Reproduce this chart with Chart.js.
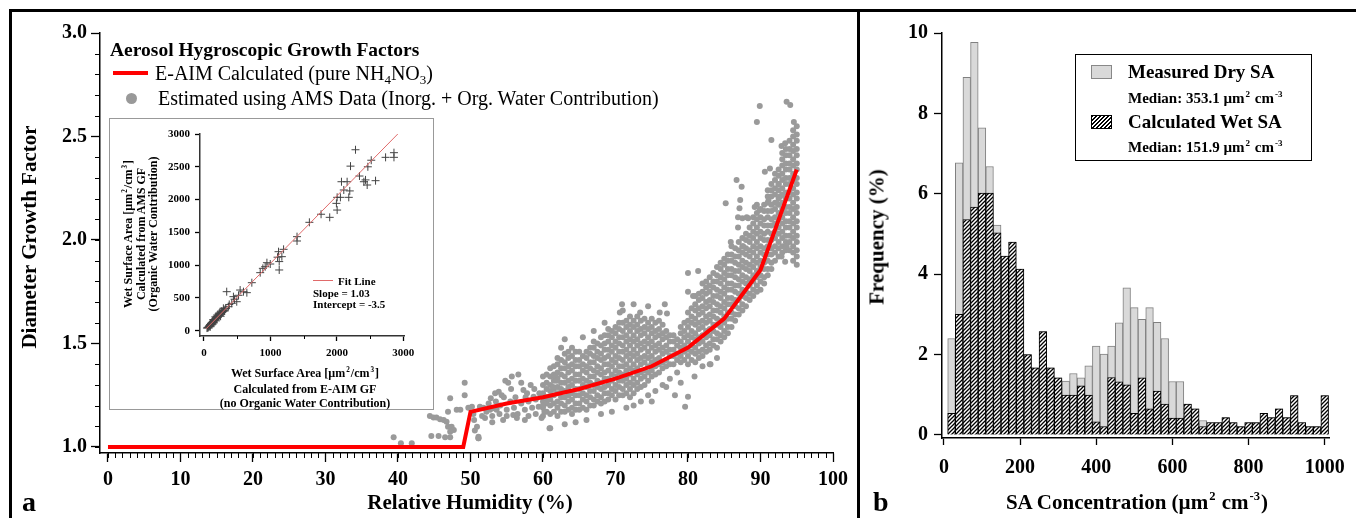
<!DOCTYPE html>
<html>
<head>
<meta charset="utf-8">
<script src="https://cdn.jsdelivr.net/npm/chart.js@4.4.1/dist/chart.umd.min.js"></script>
<style>
  body { margin: 0; background: #fff; }
  #wrap { position: relative; width: 1356px; height: 518px; overflow: hidden; background: #fff;
          font-family: 'Liberation Serif', 'Times New Roman', serif; color: #000; }
  canvas { position: absolute; }
  .t { position: absolute; white-space: nowrap; line-height: 1; }
  .b { font-weight: bold; }
  .c { transform: translate(-50%, -50%); }
  .l { transform: translateY(-50%); }
  .v { transform: translate(-50%, -50%) rotate(-90deg); }
  sup { font-size: 0.6em; vertical-align: 0.7em; line-height: 0; margin: 0 1px; }
  sub { font-size: 0.65em; vertical-align: -0.3em; line-height: 0; }
  .line { position: absolute; background: #000; }
</style>
</head>
<body>
<div id="wrap">
  <canvas id="mainChart" width="858" height="518" style="left:0;top:0"></canvas>
  <canvas id="insetChart" width="324" height="291" style="left:109px;top:118px;background:#fff"></canvas>
  <div style="position:absolute;left:109px;top:118px;width:323px;height:290px;border:1px solid #999"></div>
  <canvas id="histChart" width="498" height="518" style="left:858px;top:0"></canvas>

  <!-- frame -->
  <div class="line" style="left:9px;top:9px;width:1347px;height:3px"></div>
  <div class="line" style="left:9px;top:9px;width:3px;height:509px"></div>
  <div class="line" style="left:857px;top:9px;width:3px;height:509px"></div>

  <!-- panel a texts -->
  <div class="t b v" style="left:29px;top:237px;font-size:21px">Diameter Growth Factor</div>
  <div class="t b c" style="left:470px;top:502px;font-size:21px">Relative Humidity (%)</div>
  <div class="t b" style="left:22px;top:488px;font-size:28px">a</div>

  <div class="t b l" style="left:110px;top:50px;font-size:19.5px">Aerosol Hygroscopic Growth Factors</div>
  <div style="position:absolute;left:113px;top:71px;width:35px;height:4px;background:#f00"></div>
  <div class="t l" style="left:155px;top:73px;font-size:20px">E-AIM Calculated (pure NH<sub>4</sub>NO<sub>3</sub>)</div>
  <div style="position:absolute;left:126px;top:93px;width:11px;height:11px;border-radius:50%;background:#999"></div>
  <div class="t l" style="left:158px;top:98px;font-size:20px">Estimated using AMS Data (Inorg. + Org. Water Contribution)</div>

  <!-- inset texts -->
  <div class="t b v" style="left:128px;top:234px;font-size:12px">Wet Surface Area [µm<sup>2</sup>/cm<sup>3</sup>]</div>
  <div class="t b v" style="left:141px;top:234px;font-size:12px">Calculated from AMS GF</div>
  <div class="t b v" style="left:153px;top:234px;font-size:12px">(Organic Water Contribution)</div>
  <div class="t b c" style="left:305px;top:373px;font-size:12px">Wet Surface Area [µm<sup>2</sup>/cm<sup>3</sup>]</div>
  <div class="t b c" style="left:305px;top:389px;font-size:12px">Calculated from E-AIM GF</div>
  <div class="t b c" style="left:305px;top:403px;font-size:12px">(no Organic Water Contribution)</div>
  <div style="position:absolute;left:313px;top:280px;width:20px;height:1px;background:#e06a6a"></div>
  <div class="t b l" style="left:338px;top:281px;font-size:11px">Fit Line</div>
  <div class="t b l" style="left:313px;top:293px;font-size:11px">Slope = 1.03</div>
  <div class="t b l" style="left:313px;top:304px;font-size:11px">Intercept = -3.5</div>

  <!-- panel b texts -->
  <div class="t b v" style="left:877px;top:237px;font-size:21px">Frequency (%)</div>
  <div class="t b c" style="left:1137px;top:502px;font-size:21px">SA Concentration (µm<sup>2</sup> cm<sup>-3</sup>)</div>
  <div class="t b" style="left:873px;top:488px;font-size:28px">b</div>

  <div style="position:absolute;left:1075px;top:54px;width:235px;height:105px;border:1.5px solid #000"></div>
  <div style="position:absolute;left:1091px;top:65px;width:19px;height:12px;background:#d9d9d9;border:1px solid #888"></div>
  <div class="t b l" style="left:1128px;top:71px;font-size:19px">Measured Dry SA</div>
  <div class="t b l" style="left:1128px;top:98px;font-size:15px">Median: 353.1 µm<sup>2</sup> cm<sup>-3</sup></div>
  <div style="position:absolute;left:1091px;top:115px;width:19px;height:12px;border:1px solid #000;
       background:repeating-linear-gradient(135deg,#000 0 1.2px,#fff 1.2px 2.8px)"></div>
  <div class="t b l" style="left:1128px;top:121px;font-size:19px">Calculated Wet SA</div>
  <div class="t b l" style="left:1128px;top:147px;font-size:15px">Median: 151.9 µm<sup>2</sup> cm<sup>-3</sup></div>
</div>

<script>
// ---- panel a: growth factor vs RH ----
const rhTicks = [0, 10, 20, 30, 40, 50, 60, 70, 80, 90, 100];
const gfTicks = [1.0, 1.5, 2.0, 2.5, 3.0];

// E-AIM calculated growth factor (pure NH4NO3)
const eaimRH = [0, 49, 50, 55, 60, 65, 70, 75, 80, 85, 90, 95];
const eaimGF = [1.0, 1.0, 1.17, 1.21, 1.24, 1.28, 1.33, 1.39, 1.48, 1.62, 1.855, 2.34];

// AMS estimated points, read column by column off the dense cloud
const amsColumns = [
  [60, [1.15, 1.19, 1.22, 1.26, 1.30, 1.34]],
  [60.5, [1.17, 1.21, 1.24, 1.28, 1.31, 1.35]],
  [61, [1.16, 1.20, 1.23, 1.27, 1.30, 1.34, 1.38]],
  [61.5, [1.17, 1.21, 1.25, 1.28, 1.32, 1.35, 1.39]],
  [62, [1.15, 1.19, 1.22, 1.26, 1.29, 1.33, 1.36, 1.40, 1.43]],
  [62.5, [1.17, 1.21, 1.24, 1.28, 1.31, 1.35, 1.38, 1.42]],
  [63, [1.17, 1.20, 1.24, 1.27, 1.31, 1.34, 1.38, 1.41, 1.45]],
  [63.5, [1.18, 1.22, 1.25, 1.29, 1.32, 1.36, 1.39, 1.43, 1.46]],
  [64, [1.16, 1.19, 1.23, 1.26, 1.30, 1.33, 1.37, 1.40, 1.44, 1.48]],
  [64.5, [1.18, 1.21, 1.25, 1.28, 1.32, 1.35, 1.39, 1.42, 1.46]],
  [65, [1.18, 1.21, 1.25, 1.28, 1.32, 1.35, 1.39, 1.42, 1.46]],
  [65.5, [1.19, 1.23, 1.26, 1.30, 1.33, 1.37, 1.40, 1.44]],
  [66, [1.18, 1.22, 1.25, 1.29, 1.32, 1.36, 1.39, 1.43, 1.46]],
  [66.5, [1.20, 1.24, 1.27, 1.31, 1.34, 1.38, 1.41, 1.45, 1.48]],
  [67, [1.20, 1.23, 1.27, 1.30, 1.34, 1.37, 1.41, 1.44, 1.48, 1.51]],
  [67.5, [1.22, 1.25, 1.29, 1.32, 1.36, 1.39, 1.43, 1.46, 1.50]],
  [68, [1.21, 1.24, 1.28, 1.31, 1.35, 1.38, 1.42, 1.45, 1.49, 1.53]],
  [68.5, [1.22, 1.26, 1.29, 1.33, 1.36, 1.40, 1.43, 1.47, 1.50, 1.54]],
  [69, [1.23, 1.26, 1.30, 1.33, 1.37, 1.40, 1.44, 1.47, 1.51, 1.54, 1.57]],
  [69.5, [1.25, 1.28, 1.32, 1.35, 1.39, 1.42, 1.46, 1.49, 1.53, 1.56]],
  [70, [1.23, 1.27, 1.30, 1.34, 1.37, 1.41, 1.44, 1.48, 1.51, 1.55, 1.58]],
  [70.5, [1.25, 1.29, 1.32, 1.36, 1.39, 1.43, 1.46, 1.50, 1.53, 1.57, 1.60]],
  [71, [1.25, 1.28, 1.32, 1.35, 1.39, 1.42, 1.46, 1.49, 1.53, 1.56, 1.60]],
  [71.5, [1.26, 1.30, 1.33, 1.37, 1.40, 1.44, 1.47, 1.51, 1.54, 1.58, 1.61]],
  [72, [1.24, 1.28, 1.31, 1.35, 1.38, 1.42, 1.45, 1.49, 1.52, 1.56, 1.59, 1.63]],
  [72.5, [1.26, 1.30, 1.33, 1.37, 1.40, 1.44, 1.47, 1.51, 1.54, 1.58, 1.61]],
  [73, [1.28, 1.31, 1.35, 1.38, 1.42, 1.45, 1.49, 1.52, 1.56, 1.59, 1.63]],
  [73.5, [1.29, 1.33, 1.36, 1.40, 1.43, 1.47, 1.50, 1.54, 1.57, 1.61]],
  [74, [1.30, 1.34, 1.37, 1.41, 1.44, 1.48, 1.51, 1.55, 1.58, 1.62]],
  [74.5, [1.32, 1.36, 1.39, 1.43, 1.46, 1.50, 1.53, 1.57, 1.60]],
  [75, [1.34, 1.37, 1.41, 1.44, 1.48, 1.51, 1.55, 1.58, 1.62]],
  [75.5, [1.35, 1.39, 1.42, 1.46, 1.49, 1.53, 1.56, 1.60]],
  [76, [1.36, 1.40, 1.43, 1.47, 1.50, 1.54, 1.57, 1.61]],
  [76.5, [1.38, 1.41, 1.45, 1.48, 1.52, 1.55, 1.59]],
  [77, [1.39, 1.42, 1.46, 1.49, 1.53, 1.56]],
  [77.5, [1.40, 1.44, 1.47, 1.51, 1.54]],
  [78, [1.40, 1.44, 1.47, 1.51, 1.54]],
  [78.5, [1.42, 1.45, 1.49, 1.52]],
  [79, [1.41, 1.44, 1.48, 1.51, 1.55, 1.58]],
  [79.5, [1.42, 1.46, 1.49, 1.53, 1.56, 1.60]],
  [80, [1.40, 1.44, 1.47, 1.51, 1.54, 1.58, 1.61, 1.65]],
  [80.5, [1.42, 1.46, 1.49, 1.53, 1.56, 1.60, 1.63, 1.67]],
  [81, [1.41, 1.45, 1.48, 1.52, 1.55, 1.59, 1.62, 1.66, 1.69, 1.73]],
  [81.5, [1.43, 1.46, 1.50, 1.53, 1.57, 1.60, 1.64, 1.67, 1.71, 1.74]],
  [82, [1.44, 1.47, 1.51, 1.54, 1.58, 1.61, 1.65, 1.68, 1.72, 1.75, 1.79]],
  [82.5, [1.46, 1.49, 1.53, 1.56, 1.60, 1.63, 1.67, 1.70, 1.74, 1.77, 1.80]],
  [83, [1.47, 1.50, 1.54, 1.57, 1.61, 1.64, 1.68, 1.71, 1.75, 1.78, 1.82]],
  [83.5, [1.49, 1.52, 1.56, 1.59, 1.63, 1.66, 1.70, 1.73, 1.77, 1.80, 1.84]],
  [84, [1.48, 1.52, 1.55, 1.59, 1.62, 1.66, 1.69, 1.73, 1.76, 1.80, 1.83, 1.87]],
  [84.5, [1.51, 1.54, 1.58, 1.61, 1.65, 1.68, 1.72, 1.75, 1.79, 1.82, 1.86, 1.89]],
  [85, [1.53, 1.56, 1.60, 1.63, 1.67, 1.70, 1.74, 1.77, 1.81, 1.84, 1.88, 1.91]],
  [85.5, [1.55, 1.58, 1.62, 1.65, 1.69, 1.72, 1.76, 1.79, 1.83, 1.86, 1.90, 1.93]],
  [86, [1.58, 1.62, 1.65, 1.69, 1.72, 1.76, 1.79, 1.83, 1.86, 1.90, 1.93, 1.97]],
  [86.5, [1.61, 1.64, 1.68, 1.71, 1.75, 1.78, 1.82, 1.85, 1.89, 1.92, 1.96]],
  [87, [1.64, 1.67, 1.71, 1.74, 1.78, 1.81, 1.85, 1.88, 1.92, 1.95, 1.99]],
  [87.5, [1.66, 1.69, 1.73, 1.76, 1.80, 1.83, 1.87, 1.90, 1.94, 1.97, 2.01]],
  [88, [1.68, 1.72, 1.75, 1.79, 1.82, 1.86, 1.89, 1.93, 1.96, 2.00, 2.03]],
  [88.5, [1.71, 1.74, 1.78, 1.81, 1.85, 1.88, 1.92, 1.95, 1.99, 2.02, 2.06]],
  [89, [1.73, 1.76, 1.80, 1.83, 1.87, 1.90, 1.94, 1.97, 2.01, 2.04, 2.08, 2.11]],
  [89.5, [1.75, 1.78, 1.82, 1.85, 1.89, 1.92, 1.96, 1.99, 2.03, 2.06, 2.10, 2.13]],
  [90, [1.76, 1.80, 1.83, 1.87, 1.90, 1.94, 1.97, 2.01, 2.04, 2.08, 2.11, 2.15]],
  [90.5, [1.79, 1.82, 1.86, 1.89, 1.93, 1.96, 2.00, 2.03, 2.07, 2.10, 2.14, 2.17]],
  [91, [1.83, 1.86, 1.90, 1.93, 1.97, 2.00, 2.04, 2.07, 2.11, 2.14, 2.18, 2.21, 2.24]],
  [91.5, [1.86, 1.89, 1.93, 1.96, 2.00, 2.03, 2.07, 2.10, 2.14, 2.17, 2.21, 2.24, 2.27]],
  [92, [1.90, 1.94, 1.97, 2.01, 2.04, 2.08, 2.11, 2.15, 2.18, 2.22, 2.25, 2.29, 2.32]],
  [92.5, [1.92, 1.96, 1.99, 2.03, 2.06, 2.10, 2.13, 2.17, 2.20, 2.24, 2.27, 2.31, 2.34]],
  [93, [1.94, 1.97, 2.01, 2.04, 2.08, 2.11, 2.15, 2.18, 2.22, 2.25, 2.29, 2.32, 2.36, 2.39, 2.42]],
  [93.5, [1.95, 1.99, 2.02, 2.06, 2.09, 2.13, 2.16, 2.20, 2.23, 2.27, 2.30, 2.34, 2.37, 2.41, 2.44]],
  [94, [1.95, 1.99, 2.02, 2.06, 2.09, 2.13, 2.16, 2.20, 2.23, 2.27, 2.30, 2.34, 2.37, 2.41, 2.44, 2.48]],
  [94.5, [1.90, 1.94, 1.97, 2.01, 2.04, 2.08, 2.11, 2.15, 2.18, 2.22, 2.25, 2.29, 2.32, 2.36, 2.39, 2.43, 2.46, 2.50, 2.53]],
  [95, [1.88, 1.92, 1.95, 1.99, 2.02, 2.06, 2.09, 2.13, 2.16, 2.20, 2.23, 2.27, 2.30, 2.34, 2.37, 2.41, 2.44, 2.48, 2.51, 2.55]]
];

// sparse points and outliers
const amsSparse = [
  [39.4, 1.047], [40.4, 1.018], [41.9, 1.018],
  [44.4, 1.15], [44.9, 1.143], [45.3, 1.143], [45.8, 1.134], [46.3, 1.13], [46.7, 1.122], [46.9, 1.098],
  [47.4, 1.098], [47.7, 1.082], [47.2, 1.074], [44.6, 1.053], [45.6, 1.053], [46.5, 1.047], [47.2, 1.047],
  [46.9, 1.17], [47.2, 1.235], [48.1, 1.18], [48.6, 1.18], [49.2, 1.31], [49.7, 1.19], [49.2, 1.25],
  [50.2, 1.195], [50.4, 1.16], [50.5, 1.13], [50.9, 1.098], [51.1, 1.05], [50.6, 1.08], [51.1, 1.042],
  [51.3, 1.195], [51.8, 1.19], [52.2, 1.17], [52.7, 1.18], [53.1, 1.187], [53.6, 1.18], [53.4, 1.26],
  [53.9, 1.267], [54.3, 1.25], [54.8, 1.32], [55.2, 1.31], [54.1, 1.20], [55.9, 1.155], [56.4, 1.14],
  [57.5, 1.13], [55.7, 1.34], [56.6, 1.35], [57.3, 1.275], [57.8, 1.26], [58.7, 1.243], [59.4, 1.195],
  [60.5, 1.235], [60.9, 1.09], [61.4, 1.29], [61.7, 1.34], [61.9, 1.32],
  [52, 1.14], [52.5, 1.21], [53, 1.15], [53.5, 1.22], [54, 1.16], [54.5, 1.13], [55, 1.18], [55.5, 1.22],
  [56, 1.19], [56.5, 1.16], [57, 1.21], [57.5, 1.18], [58, 1.15], [58, 1.22], [58.5, 1.19], [59, 1.16],
  [59, 1.23], [59.5, 1.26], [59.8, 1.14], [60, 1.20], [60.2, 1.17], [58.8, 1.28], [57.6, 1.24], [56.2, 1.24],
  [55, 1.15], [53, 1.12], [54.6, 1.24], [52.8, 1.235], [51.6, 1.15], [55.6, 1.28], [57, 1.31], [58.3, 1.30],
  [80.0, 1.84], [81.4, 1.85], [80.0, 1.75], [80.7, 1.73], [70.9, 1.69], [70.6, 1.65], [73.4, 1.65],
  [76.1, 1.65], [77.1, 1.645], [83.0, 1.40], [79.6, 1.195], [80.0, 1.243], [61.0, 1.09], [51.1, 1.042],
  [89.9, 2.647], [89.5, 2.57], [93.6, 2.668], [94.1, 2.652], [94.6, 2.57], [91.5, 2.483], [92.9, 2.454],
  [93.4, 2.467], [90.6, 2.33], [91.3, 2.346], [86.7, 2.29], [87.4, 2.257], [85.2, 2.177], [87.2, 2.193],
  [87.1, 2.153], [86.9, 2.11], [87.5, 2.105], [88.3, 2.105], [85.9, 1.99], [86.9, 2.06], [87.6, 1.97],
  [89.5, 2.17], [89.9, 2.145], [92.5, 2.27], [92.7, 2.21], [92.9, 1.92], [93.4, 1.895], [93.6, 1.97],
  [83.1, 1.40], [80.9, 1.34], [91.1, 2.19], [92.2, 2.18], [89.2, 2.16], [88.1, 2.11],
  [74.5, 1.25], [75.5, 1.27], [76.5, 1.30], [77.5, 1.33], [78.5, 1.36], [79, 1.31], [78.2, 1.25], [77, 1.29],
  [75, 1.22], [73.5, 1.22], [72.5, 1.20], [71.5, 1.19], [69.5, 1.17], [68, 1.16], [66, 1.13], [64.5, 1.12],
  [63, 1.11], [82, 1.39], [84, 1.43], [63, 1.52], [65.5, 1.53], [68.5, 1.60], [71, 1.66], [74.5, 1.68],
  [76.8, 1.69], [67, 1.56], [72.5, 1.69], [62.5, 1.48]
];

// ---- inset: wet surface area comparison ----
const insetXTicks = [0, 1000, 2000, 3000];
const insetYTicks = [0, 500, 1000, 1500, 2000, 2500, 3000];
const insetPoints = [
  [2280, 2760], [2205, 2510], [2517, 2600], [2466, 2500], [2733, 2644], [2859, 2715], [2859, 2644],
  [2069, 2272], [2154, 2272], [2104, 2146], [2179, 2034], [2194, 2132], [2053, 2034], [2340, 2359],
  [2406, 2272], [2431, 2300], [2456, 2222], [2582, 2288], [2004, 2034], [1993, 1942], [2004, 1840],
  [1892, 1729], [1762, 1776], [1586, 1653], [1400, 1434], [1400, 1368], [1198, 1241], [1122, 1205],
  [1172, 1129], [1107, 1121], [1132, 1054], [947, 1037], [997, 1017], [921, 976], [1132, 926],
  [846, 885], [886, 951], [720, 732], [645, 580], [594, 595], [544, 620], [342, 595], [443, 519],
  [493, 442], [418, 417], [367, 366], [292, 341], [242, 265],
  [45, 40], [55, 50], [60, 45], [70, 60], [75, 70], [80, 65], [85, 80], [90, 85], [95, 95], [100, 90],
  [105, 110], [110, 100], [115, 120], [120, 115], [125, 130], [130, 125], [135, 140], [140, 135],
  [145, 155], [150, 150], [155, 160], [160, 170], [165, 165], [170, 180], [175, 175], [180, 190],
  [185, 200], [190, 185], [195, 210], [200, 205], [210, 215], [215, 230], [220, 225], [230, 240],
  [240, 235], [250, 260], [260, 255], [270, 280], [280, 290], [290, 300], [300, 310], [310, 300],
  [320, 330], [330, 340], [95, 60], [120, 90], [150, 120], [180, 150], [140, 170], [170, 210],
  [200, 240], [230, 270], [260, 300], [250, 220], [380, 400], [460, 480], [520, 540]
];
const fitLineX = [30, 2925];
const fitLineY = [27, 3009];

// ---- panel b: surface area histogram ----
const saBins = [20, 40, 60, 80, 100, 120, 140, 160, 180, 200, 220, 240, 260, 280, 300, 320, 340, 360, 380, 400,
  420, 440, 460, 480, 500, 520, 540, 560, 580, 600, 620, 640, 660, 680, 700, 720, 740, 760, 780, 800,
  820, 840, 860, 880, 900, 920, 940, 960, 980, 1000];
const drySA = [2.40, 6.77, 8.90, 9.77, 7.64, 6.68, 5.22, 4.45, 4.80, 4.13, 2.00, 1.67, 2.57, 1.67, 1.42,
  1.34, 1.53, 1.42, 1.72, 2.21, 2.01, 2.21, 2.79, 3.66, 3.17, 2.88, 3.17, 2.80, 2.40, 1.33,
  1.33, 0.77, 0.65, 0.36, 0.31, 0.31, 0.43, 0.31, 0.21, 0.31, 0.31, 0.54, 0.43, 0.65, 0.43,
  0.98, 0.31, 0.21, 0.21, 0.98];
const wetSA = [0.54, 3.00, 5.36, 5.67, 6.02, 6.02, 5.03, 4.45, 4.80, 4.13, 2.00, 1.67, 2.57, 1.67, 1.42,
  0.99, 0.99, 1.22, 0.99, 0.33, 0.21, 1.43, 1.32, 1.25, 0.54, 1.42, 0.65, 1.09, 0.77, 0.42,
  0.42, 0.77, 0.65, 0.21, 0.31, 0.31, 0.43, 0.31, 0.21, 0.31, 0.31, 0.54, 0.43, 0.65, 0.43,
  0.98, 0.31, 0.21, 0.21, 0.98];
const saTicks = [0, 200, 400, 600, 800, 1000];
const freqTicks = [0, 2, 4, 6, 8, 10];

const serif = "'Liberation Serif', 'Times New Roman', serif";

// minor tick marks drawn from the scales
const minorTicks = {
  id: 'minorTicks',
  afterDraw(chart, args, opts) {
    const ctx = chart.ctx;
    ctx.save();
    ctx.strokeStyle = '#000';
    ctx.lineWidth = 1;
    (opts.axes || []).forEach(a => {
      const s = chart.scales[a.id];
      for (let v = a.from; v <= a.to + 1e-9; v += a.step) {
        const p = Math.round(s.getPixelForValue(v)) + 0.5;
        ctx.beginPath();
        if (s.isHorizontal()) { ctx.moveTo(p, s.top); ctx.lineTo(p, s.top + a.len); }
        else { ctx.moveTo(s.right, p); ctx.lineTo(s.right - a.len, p); }
        ctx.stroke();
      }
    });
    ctx.restore();
  }
};

function axis(opts) {
  return {
    type: 'linear',
    offset: false,
    min: opts.min, max: opts.max,
    afterBuildTicks: s => { s.ticks = opts.ticks.map(v => ({ value: v })); },
    afterFit: s => { if (opts.width) s.width = opts.width; if (opts.height) s.height = opts.height; },
    ticks: {
      color: '#000', padding: opts.pad, maxRotation: 0, autoSkip: false,
      font: { family: serif, weight: 'bold', size: opts.size },
      callback: opts.fmt || (v => v)
    },
    grid: { drawOnChartArea: false, drawTicks: true, offset: false, tickLength: opts.tick, tickColor: '#000', tickWidth: 1.3 },
    border: { display: true, color: opts.borderColor || '#000', width: 1.5 }
  };
}

const amsData = [];
amsColumns.forEach(([rh, gfs]) => gfs.forEach(gf => amsData.push({ x: rh, y: gf })));
amsSparse.forEach(([rh, gf]) => amsData.push({ x: rh, y: gf }));

new Chart(document.getElementById('mainChart'), {
  type: 'scatter',
  data: {
    datasets: [
      {
        label: 'E-AIM Calculated (pure NH4NO3)',
        data: eaimRH.map((x, i) => ({ x, y: eaimGF[i] })),
        showLine: true, borderColor: '#ff0000', borderWidth: 4, pointRadius: 0,
        borderJoinStyle: 'miter', order: 0
      },
      {
        label: 'Estimated using AMS Data',
        data: amsData,
        backgroundColor: '#9a9a9a', borderWidth: 0, pointRadius: 3, order: 1
      }
    ]
  },
  options: {
    responsive: false, animation: false,
    layout: { padding: { left: 40, right: 25, top: 33, bottom: 20 } },
    plugins: {
      legend: { display: false }, tooltip: { enabled: false },
      minorTicks: { axes: [
        { id: 'x', from: 0, to: 100, step: 1, len: 5 },
        { id: 'y', from: 1.0, to: 3.0, step: 0.1, len: 5 }
      ] }
    },
    scales: {
      x: axis({ min: -1.1, max: 100, ticks: rhTicks, width: 0, height: 45, pad: 6, size: 20, tick: 9 }),
      y: axis({ min: 0.971, max: 3.0, ticks: gfTicks, width: 60, pad: 4, size: 20, tick: 9,
                fmt: v => v.toFixed(1) })
    }
  },
  plugins: [minorTicks]
});

new Chart(document.getElementById('insetChart'), {
  type: 'scatter',
  data: {
    datasets: [
      {
        label: 'Fit Line',
        data: fitLineX.map((x, i) => ({ x, y: fitLineY[i] })),
        showLine: true, borderColor: '#e06a6a', borderWidth: 1, pointRadius: 0, order: 0
      },
      {
        label: 'points',
        data: insetPoints.map(([x, y]) => ({ x, y })),
        pointStyle: 'cross', pointRadius: 4, borderColor: '#444', borderWidth: 1, order: 1
      }
    ]
  },
  options: {
    responsive: false, animation: false,
    layout: { padding: { left: 41, right: 29, top: 16, bottom: 48 } },
    plugins: {
      legend: { display: false }, tooltip: { enabled: false },
      minorTicks: { axes: [{ id: 'x', from: 500, to: 2500, step: 1000, len: 3 }] }
    },
    scales: {
      x: axis({ min: -60, max: 3010, ticks: insetXTicks, height: 25, pad: 6, size: 11, tick: 5, borderColor: '#333' }),
      y: axis({ min: -81, max: 3000, ticks: insetYTicks, width: 50, pad: 5, size: 11, tick: 5, borderColor: '#333' })
    }
  },
  plugins: [minorTicks]
});

function hatch() {
  const c = document.createElement('canvas');
  c.width = 4; c.height = 4;
  const g = c.getContext('2d');
  g.fillStyle = '#fff'; g.fillRect(0, 0, 4, 4);
  g.strokeStyle = '#000'; g.lineWidth = 1.3;
  g.beginPath();
  g.moveTo(0, 4); g.lineTo(4, 0);
  g.moveTo(-1, 1); g.lineTo(1, -1);
  g.moveTo(3, 5); g.lineTo(5, 3);
  g.stroke();
  return g.createPattern(c, 'repeat');
}

new Chart(document.getElementById('histChart'), {
  type: 'bar',
  data: {
    datasets: [
      {
        label: 'Calculated Wet SA',
        data: saBins.map((x, i) => ({ x, y: wetSA[i] })),
        backgroundColor: hatch(), borderColor: '#000', borderWidth: 1, borderSkipped: 'bottom',
        barPercentage: 1, categoryPercentage: 1, grouped: false, order: 0
      },
      {
        label: 'Measured Dry SA',
        data: saBins.map((x, i) => ({ x, y: drySA[i] })),
        backgroundColor: '#d9d9d9', borderColor: '#808080', borderWidth: 1, borderSkipped: 'bottom',
        barPercentage: 1, categoryPercentage: 1, grouped: false, order: 1
      }
    ]
  },
  options: {
    responsive: false, animation: false,
    layout: { padding: { left: 24, right: 23, top: 33, bottom: 20 } },
    plugins: { legend: { display: false }, tooltip: { enabled: false } },
    scales: {
      x: axis({ min: -5, max: 1012, ticks: saTicks, height: 60, pad: 11, size: 20, tick: 7 }),
      y: axis({ min: -0.075, max: 10, ticks: freqTicks, width: 60, pad: 6, size: 20, tick: 8 })
    }
  }
});
</script>
</body>
</html>
